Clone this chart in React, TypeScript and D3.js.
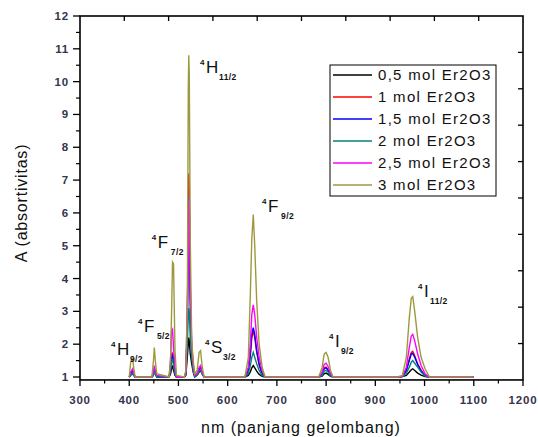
import React from "react";
import * as d3 from "d3";

// wavelength grid (nm) shared by all series
const nm = [
  400, 403, 405, 407, 409, 412,
  446, 449, 451, 453, 456,
  481, 484, 486, 488, 490, 493, 496,
  512, 515, 518, 520, 521, 522, 524, 527, 530, 533,
  538, 542, 545, 548, 552,
  635, 642, 646, 649, 652, 655, 659, 664, 670, 676,
  785, 792, 796, 800, 804, 809, 814,
  945, 955, 963, 969, 973, 976, 980, 986, 993, 1001, 1010,
  1100,
];

const s05 = [
  1, 1.05, 1.1, 1.1, 1.05, 1,
  1, 1.05, 1.15, 1.1, 1.0,
  1, 1.1, 1.25, 1.35, 1.2, 1.05, 1.0,
  1, 1.05, 1.6, 2.0, 2.2, 2.1, 1.7, 1.4, 1.15, 1.0,
  1.05, 1.15, 1.2, 1.1, 1.0,
  1, 1.05, 1.15, 1.28, 1.35, 1.28, 1.18, 1.08, 1.02, 1.0,
  1, 1.03, 1.1, 1.12, 1.08, 1.02, 1.0,
  1, 1.01, 1.05, 1.15, 1.22, 1.25, 1.2, 1.12, 1.06, 1.01, 1.0,
  1,
];
const s1 = [
  1, 1.1, 1.15, 1.2, 1.1, 1,
  1, 1.1, 1.25, 1.15, 1.02,
  1, 1.3, 1.6, 1.75, 1.5, 1.15, 1.0,
  1, 1.1, 2.5, 5.5, 7.2, 6.7, 3.5, 1.8, 1.3, 1.05,
  1.1, 1.25, 1.3, 1.15, 1.0,
  1, 1.2, 1.65, 2.2, 2.4, 2.2, 1.75, 1.35, 1.1, 1.0,
  1, 1.1, 1.28, 1.3, 1.22, 1.05, 1.0,
  1, 1.02, 1.2, 1.55, 1.75, 1.78, 1.65, 1.4, 1.2, 1.05, 1.0,
  1,
];
const s15 = [
  1, 1.1, 1.15, 1.18, 1.1, 1,
  1, 1.1, 1.22, 1.15, 1.02,
  1, 1.25, 1.55, 1.7, 1.45, 1.15, 1.0,
  1, 1.1, 2.4, 5.2, 6.5, 6.3, 3.2, 1.7, 1.25, 1.05,
  1.1, 1.22, 1.28, 1.12, 1.0,
  1, 1.2, 1.7, 2.3, 2.5, 2.3, 1.8, 1.4, 1.1, 1.0,
  1, 1.1, 1.25, 1.28, 1.2, 1.05, 1.0,
  1, 1.02, 1.2, 1.5, 1.7, 1.72, 1.6, 1.38, 1.18, 1.05, 1.0,
  1,
];
const s2 = [
  1, 1.05, 1.1, 1.12, 1.05, 1,
  1, 1.05, 1.15, 1.1, 1.0,
  1, 1.2, 1.45, 1.55, 1.35, 1.1, 1.0,
  1, 1.1, 2.0, 2.9, 3.1, 3.0, 2.2, 1.6, 1.2, 1.0,
  1.05, 1.18, 1.22, 1.1, 1.0,
  1, 1.1, 1.35, 1.6, 1.75, 1.6, 1.4, 1.2, 1.05, 1.0,
  1, 1.05, 1.18, 1.2, 1.15, 1.03, 1.0,
  1, 1.01, 1.12, 1.3, 1.45, 1.5, 1.42, 1.3, 1.15, 1.03, 1.0,
  1,
];
const s25 = [
  1, 1.15, 1.2, 1.25, 1.12, 1,
  1, 1.15, 1.35, 1.2, 1.05,
  1, 1.5, 2.4, 2.45, 1.9, 1.3, 1.0,
  1, 1.15, 3.1, 5.0, 6.3, 6.5, 3.8, 2.0, 1.4, 1.05,
  1.1, 1.3, 1.35, 1.15, 1.0,
  1, 1.3, 2.0, 2.9, 3.2, 2.9, 2.2, 1.6, 1.2, 1.0,
  1, 1.15, 1.38, 1.42, 1.32, 1.1, 1.0,
  1, 1.02, 1.3, 1.9, 2.25, 2.3, 2.1, 1.7, 1.35, 1.1, 1.0,
  1,
];
const s3 = [
  1, 1.45, 1.5, 1.55, 1.3, 1,
  1, 1.45, 1.9, 1.5, 1.1,
  1, 1.6, 2.95, 4.5, 4.45, 1.8, 1.05,
  1, 1.2, 3.15, 9.8, 10.8, 10.2, 5.2, 2.1, 1.5, 1.1,
  1.2, 1.75, 1.8, 1.35, 1.0,
  1, 1.6, 3.5, 5.2, 5.95, 5.0, 3.3, 2.0, 1.3, 1.0,
  1, 1.3, 1.7, 1.75, 1.6, 1.2, 1.0,
  1, 1.05, 1.6, 2.8, 3.4, 3.45, 3.0, 2.2, 1.6, 1.25, 1.0,
  1,
];

const seriesNames = [
  "0,5 mol Er2O3",
  "1 mol Er2O3",
  "1,5 mol Er2O3",
  "2 mol Er2O3",
  "2,5 mol Er2O3",
  "3 mol Er2O3",
];
const seriesValues = [s05, s1, s15, s2, s25, s3];
const seriesColors = ["#000000", "#ff0000", "#0000ff", "#008080", "#ff00ff", "#9c9a3c"];

// transition labels: term, subscript, anchor (nm, absorbance)
const labels = [
  { term: "H", sub: "9/2", x: 375, y: 1.67 },
  { term: "F", sub: "5/2", x: 430, y: 2.37 },
  { term: "F", sub: "7/2", x: 458, y: 4.93 },
  { term: "H", sub: "11/2", x: 556, y: 10.27 },
  { term: "S", sub: "3/2", x: 566, y: 1.73 },
  { term: "F", sub: "9/2", x: 682, y: 6.03 },
  { term: "I", sub: "9/2", x: 818, y: 1.91 },
  { term: "I", sub: "11/2", x: 999, y: 3.44 },
];

const xTicks = [300, 400, 500, 600, 700, 800, 900, 1000, 1100, 1200];
const yTicks = [1, 2, 3, 4, 5, 6, 7, 8, 9, 10, 11, 12];

const width = 538;
const height = 437;
const left = 80;
const right = 523;
const top = 16;
const font = "'Liberation Sans', Arial, sans-serif";
const tickColor = "#34344a";

export default function App() {
  const x = d3.scaleLinear().domain([300, 1200]).range([left, right]);
  const y = d3.scaleLinear().domain([1, 12]).range([377, top]);
  const bottom = y(0.91);

  const line = d3
    .line<number>()
    .x((_, i) => x(nm[i]))
    .y((d) => y(d));

  const xMinor = d3.range(350, 1200, 100);
  const yMinor = d3.range(1.5, 12, 1);
  // top and right axes carry their own 10 equal divisions
  const topTicks = d3.range(1, 10).map((k) => left + (k * (right - left)) / 10);
  const rightTicks = d3.range(1, 10).map((k) => top + (k * (bottom - top)) / 10);

  return (
    <svg
      width={width}
      height={height}
      style={{ position: "absolute", left: 0, top: 0, background: "#fff" }}
      fontFamily={font}
    >
      {/* series */}
      {seriesValues.map((vals, i) => (
        <path
          key={seriesNames[i]}
          d={line(vals) ?? ""}
          fill="none"
          stroke={seriesColors[i]}
          strokeWidth={1.4}
        />
      ))}

      {/* frame */}
      <rect
        x={left}
        y={top}
        width={right - left}
        height={bottom - top}
        fill="none"
        stroke="#000"
        strokeWidth={1.6}
      />

      {/* bottom axis, outward ticks */}
      {xTicks.map((t) => (
        <g key={"xb" + t}>
          <line x1={x(t)} x2={x(t)} y1={bottom} y2={bottom + 6} stroke="#000" strokeWidth={1.3} />
          <text
            x={x(t)}
            y={bottom + 24}
            textAnchor="middle"
            fontSize={11.5}
            fontWeight="bold"
            letterSpacing={0.8}
            fill={tickColor}
          >
            {t}
          </text>
        </g>
      ))}
      {xMinor.map((t) => (
        <line key={"xm" + t} x1={x(t)} x2={x(t)} y1={bottom} y2={bottom + 3.5} stroke="#000" strokeWidth={1.2} />
      ))}
      {topTicks.map((tx) => (
        <line key={"xt" + tx} x1={tx} x2={tx} y1={top} y2={top + 5} stroke="#000" strokeWidth={1.3} />
      ))}

      {/* left axis, outward ticks */}
      {yTicks.map((t) => (
        <g key={"yl" + t}>
          <line x1={left - 7} x2={left} y1={y(t)} y2={y(t)} stroke="#000" strokeWidth={1.3} />
          <text
            x={left - 11}
            y={y(t)}
            dy="0.35em"
            textAnchor="end"
            fontSize={11.5}
            fontWeight="bold"
            letterSpacing={0.8}
            fill={tickColor}
          >
            {t}
          </text>
        </g>
      ))}
      {yMinor.map((t) => (
        <line key={"ym" + t} x1={left - 4} x2={left} y1={y(t)} y2={y(t)} stroke="#000" strokeWidth={1.2} />
      ))}
      {rightTicks.map((ty) => (
        <line key={"yr" + ty} x1={right - 5} x2={right} y1={ty} y2={ty} stroke="#000" strokeWidth={1.3} />
      ))}

      {/* axis titles */}
      <text x={301} y={433} textAnchor="middle" fontSize={16} letterSpacing={1} fill="#111">
        nm (panjang gelombang)
      </text>
      <text
        transform={`translate(27, 203) rotate(-90)`}
        textAnchor="middle"
        fontSize={16}
        letterSpacing={0.8}
        fill="#111"
      >
        A (absortivitas)
      </text>

      {/* transition labels */}
      {labels.map((l, i) => {
        const lx = x(l.x);
        const ly = y(l.y);
        const w = l.term === "I" ? 6 : l.term === "S" ? 12 : 13;
        return (
          <g key={i} fill="#111">
            <text x={lx - 6} y={ly - 8} fontSize={8} fontWeight="bold">4</text>
            <text x={lx} y={ly} fontSize={17}>{l.term}</text>
            <text x={lx + w} y={ly + 7} fontSize={8.5} fontWeight="bold" letterSpacing={0.4}>
              {l.sub}
            </text>
          </g>
        );
      })}

      {/* legend */}
      <rect x={330} y={65} width={166} height={131} fill="#fff" stroke="#000" strokeWidth={1} />
      {seriesNames.map((name, i) => {
        const ly = 75 + i * 22;
        return (
          <g key={name}>
            <line x1={333} x2={372} y1={ly} y2={ly} stroke={seriesColors[i]} strokeWidth={1.4} />
            <text x={378} y={ly} dy="0.36em" fontSize={15} letterSpacing={1.3} fill="#111">
              {name}
            </text>
          </g>
        );
      })}
    </svg>
  );
}
